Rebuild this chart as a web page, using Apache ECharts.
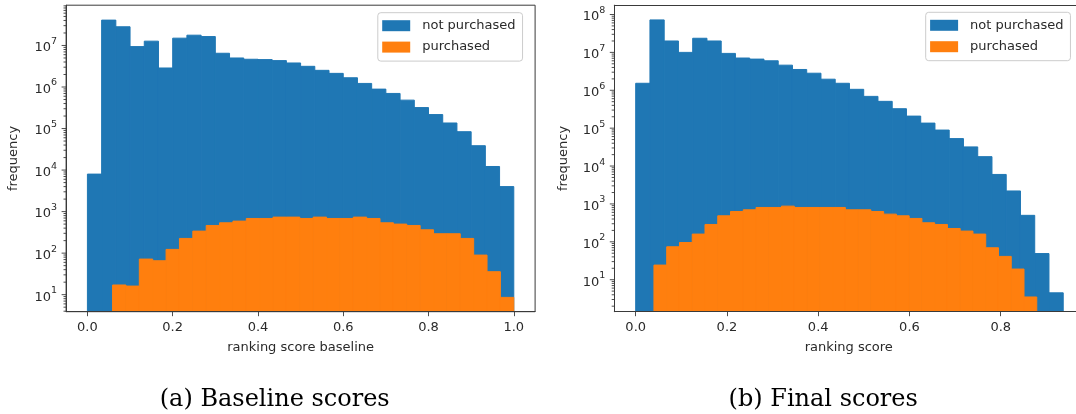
<!DOCTYPE html>
<html>
<head>
<meta charset="utf-8">
<script src="https://cdn.jsdelivr.net/npm/echarts@6/dist/echarts.min.js"></script>
<style>
html, body { margin: 0; padding: 0; background: #ffffff; }
#chart { width: 1076px; height: 414px; }
</style>
</head>
<body>
<div id="chart"></div>
<script>
// ---------------- data ----------------
const seriesNames = ['not purchased', 'purchased'];
const captions = ['(a) Baseline scores', '(b) Final scores'];
const xAxisTitles = ['ranking score baseline', 'ranking score'];
const yAxisTitle = 'frequency';

const xTicksBaseline = [0, 0.2, 0.4, 0.6, 0.8, 1.0];
const xTicksFinal = [0, 0.2, 0.4, 0.6, 0.8];

// axis limits (the right panel is cut off by the figure edge)
const baselineXRange = [-0.05, 1.05];
const finalXRange = [-0.0469, 0.965];
const baselineYRange = [3.89, 9.33e7];
const finalYRange = [1.43, 1.76e8];

// histogram bin ranges [first edge, last edge]; 30 equal bins each
const baselineNotRange = [0, 1.0];
const baselinePurRange = [0.059, 1.0];
const finalNotRange = [0, 0.937];
const finalPurRange = [0.040, 0.879];

// bin counts (log scale)
const baselineNotPurchased = [
  8.0e3, 4.08e7, 2.82e7, 9.4e6, 1.27e7, 2.87e6, 1.5e7, 1.77e7, 1.64e7, 6.5e6,
  5.0e6, 4.66e6, 4.57e6, 4.32e6, 3.79e6, 3.15e6, 2.52e6, 2.13e6, 1.67e6, 1.22e6,
  8.9e5, 7.0e5, 4.83e5, 3.2e5, 2.17e5, 1.36e5, 8.4e4, 3.86e4, 1.22e4, 4.0e3
];
const baselinePurchased = [
  17.1, 16.1, 72, 65.6, 123, 226, 339, 464, 538, 590,
  684, 684, 737, 737, 684, 737, 684, 684, 737, 684,
  538, 500, 464, 365, 293, 293, 226, 89.8, 35.7, 8.6
];
const finalNotPurchased = [
  1.53e6, 7.2e7, 2.0e7, 1.0e7, 2.36e7, 2.0e7, 9.4e6, 7.1e6, 6.65e6, 6.0e6,
  4.6e6, 3.54e6, 2.82e6, 1.96e6, 1.53e6, 1.06e6, 6.9e5, 5.1e5, 3.26e5, 2.08e5,
  1.36e5, 8.9e4, 5.3e4, 3.2e4, 1.77e4, 6.0e3, 2.2e3, 500, 49, 4.5
];
const finalPurchased = [
  24.3, 74, 96, 160, 287, 486, 632, 700, 807, 807,
  875, 807, 807, 807, 807, 700, 700, 632, 538, 486,
  414, 318, 287, 225, 192, 160, 69.7, 41.2, 19.1, 3.5
];

// ---------------- helpers ----------------
const BLUE = '#1f77b4';
const ORANGE = '#ff7f0e';
const AXIS = '#3a3a3a';
const TEXT = '#2a2a2a';
const SANS = '"DejaVu Sans", sans-serif';

function histData(range, counts) {
  const n = counts.length;
  const w = (range[1] - range[0]) / n;
  return counts.map((c, i) => [range[0] + i * w, range[0] + (i + 1) * w, c]);
}

function barRender(color, yMin) {
  return function (params, api) {
    const a = api.coord([api.value(0), api.value(2)]);
    const b = api.coord([api.value(1), yMin]);
    return {
      type: 'rect',
      shape: { x: a[0], y: a[1], width: b[0] - a[0], height: b[1] - a[1] },
      style: { fill: color, stroke: color, lineWidth: 1 }
    };
  };
}

function logTicks(range) {
  const out = [];
  const k0 = Math.floor(Math.log10(range[0]));
  const k1 = Math.ceil(Math.log10(range[1]));
  for (let k = k0; k <= k1; k++) {
    for (let m = 1; m <= 9; m++) {
      const v = m * Math.pow(10, k);
      if (v > range[0] && v < range[1]) out.push([0, v, m === 1 ? 1 : 0]);
    }
  }
  return out;
}

function tickRender(params, api) {
  const cs = params.coordSys;
  const y = api.coord([0, api.value(1)])[1];
  const len = api.value(2) === 1 ? 4.5 : 2.6;
  return {
    type: 'line',
    shape: { x1: cs.x - len, y1: y, x2: cs.x, y2: y },
    style: { stroke: AXIS, lineWidth: 0.9 }
  };
}

function powLabel(v) {
  const e = Math.round(Math.log10(v));
  return '{b|10}{e|' + e + '}';
}

const labelRich = {
  b: { fontFamily: SANS, fontSize: 13, color: TEXT, verticalAlign: 'bottom' },
  e: { fontFamily: SANS, fontSize: 9.5, color: TEXT, padding: [0, 0, 8, 0] }
};

function xAxisCfg(gridIndex, range, ticks, title, namePad) {
  return {
    type: 'value', gridIndex: gridIndex, min: range[0], max: range[1], z: 3,
    axisLine: { show: true, onZero: false, lineStyle: { color: AXIS, width: 1 } },
    axisTick: { show: true, length: 4.5, customValues: ticks, lineStyle: { color: AXIS, width: 0.9 } },
    axisLabel: {
      customValues: ticks, margin: 9, fontFamily: SANS, fontSize: 13, color: TEXT,
      formatter: v => Number(v).toFixed(1)
    },
    splitLine: { show: false },
    name: title, nameLocation: 'middle', nameGap: 29,
    nameTextStyle: { fontFamily: SANS, fontSize: 13, color: TEXT, padding: namePad }
  };
}

function yAxisCfg(gridIndex, range, gap) {
  return {
    type: 'log', logBase: 10, gridIndex: gridIndex, min: range[0], max: range[1], z: 3,
    axisLine: { show: true, onZero: false, lineStyle: { color: AXIS, width: 1 } },
    axisTick: { show: false },
    axisLabel: {
      showMinLabel: false, showMaxLabel: false, margin: 9,
      formatter: powLabel, rich: labelRich
    },
    splitLine: { show: false },
    name: yAxisTitle, nameLocation: 'middle', nameGap: gap,
    nameTextStyle: { fontFamily: SANS, fontSize: 13, color: TEXT }
  };
}

function legendCfg(left, top) {
  return {
    left: left, top: top, orient: 'vertical', icon: 'rect',
    itemWidth: 28, itemHeight: 11, itemGap: 8.4,
    padding: [6.5, 7, 7.5, 4.4],
    backgroundColor: 'rgba(255,255,255,0.85)',
    borderColor: '#cccccc', borderWidth: 1, borderRadius: 3,
    selectedMode: false,
    textStyle: { fontFamily: SANS, fontSize: 13, color: TEXT, padding: [0, 0, 0, 7] },
    data: seriesNames
  };
}

const chart = echarts.init(document.getElementById('chart'), null, { renderer: 'canvas' });

const option = {
  backgroundColor: '#ffffff',
  animation: false,
  grid: [
    { left: 66.1, top: 5.2, width: 469, height: 306.5, show: true, borderColor: AXIS, borderWidth: 1, backgroundColor: 'transparent' },
    { left: 614.3, top: 5.2, right: 0, height: 306.5, show: false }
  ],
  xAxis: [
    xAxisCfg(0, baselineXRange, xTicksBaseline, xAxisTitles[0], [0, 0, 0, 0]),
    xAxisCfg(1, finalXRange, xTicksFinal, xAxisTitles[1], [0, 0, 0, 7.2]),
    {
      type: 'value', gridIndex: 1, position: 'top', min: finalXRange[0], max: finalXRange[1], z: 3,
      axisLine: { show: true, onZero: false, lineStyle: { color: AXIS, width: 1 } },
      axisTick: { show: false }, axisLabel: { show: false }, splitLine: { show: false }
    }
  ],
  yAxis: [
    yAxisCfg(0, baselineYRange, 45.5),
    yAxisCfg(1, finalYRange, 44.3)
  ],
  legend: [legendCfg(377.8, 12.7), legendCfg(925.7, 12.3)],
  series: [
    {
      name: seriesNames[0], type: 'custom', xAxisIndex: 0, yAxisIndex: 0,
      itemStyle: { color: BLUE }, encode: { x: [0, 1], y: 2 }, clip: true,
      renderItem: barRender(BLUE, baselineYRange[0]),
      data: histData(baselineNotRange, baselineNotPurchased)
    },
    {
      name: seriesNames[1], type: 'custom', xAxisIndex: 0, yAxisIndex: 0,
      itemStyle: { color: ORANGE }, encode: { x: [0, 1], y: 2 }, clip: true,
      renderItem: barRender(ORANGE, baselineYRange[0]),
      data: histData(baselinePurRange, baselinePurchased)
    },
    {
      name: seriesNames[0], type: 'custom', xAxisIndex: 1, yAxisIndex: 1,
      itemStyle: { color: BLUE }, encode: { x: [0, 1], y: 2 }, clip: true,
      renderItem: barRender(BLUE, finalYRange[0]),
      data: histData(finalNotRange, finalNotPurchased)
    },
    {
      name: seriesNames[1], type: 'custom', xAxisIndex: 1, yAxisIndex: 1,
      itemStyle: { color: ORANGE }, encode: { x: [0, 1], y: 2 }, clip: true,
      renderItem: barRender(ORANGE, finalYRange[0]),
      data: histData(finalPurRange, finalPurchased)
    },
    {
      name: 'ticks-a', type: 'custom', xAxisIndex: 0, yAxisIndex: 0, silent: true,
      encode: { x: 0, y: 1 }, clip: false, z: 5,
      renderItem: tickRender, data: logTicks(baselineYRange)
    },
    {
      name: 'ticks-b', type: 'custom', xAxisIndex: 1, yAxisIndex: 1, silent: true,
      encode: { x: 0, y: 1 }, clip: false, z: 5,
      renderItem: tickRender, data: logTicks(finalYRange)
    }
  ],
  graphic: [
    {
      type: 'text', x: 274.7, y: 399.5, silent: true,
      style: { text: captions[0], fontFamily: '"DejaVu Serif", serif', fontSize: 24, fill: '#000', align: 'center', verticalAlign: 'middle' }
    },
    {
      type: 'text', x: 823.2, y: 399.5, silent: true,
      style: { text: captions[1], fontFamily: '"DejaVu Serif", serif', fontSize: 24, fill: '#000', align: 'center', verticalAlign: 'middle' }
    }
  ]
};

chart.setOption(option);
</script>
</body>
</html>
